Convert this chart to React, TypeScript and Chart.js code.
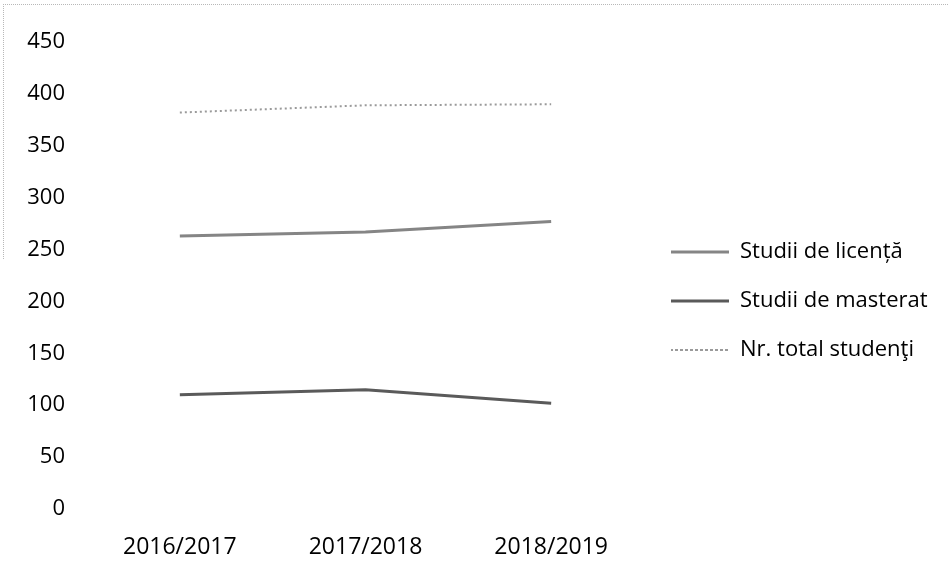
import React, { useEffect, useRef } from "react";
import { Chart, registerables } from "chart.js";

Chart.register(...registerables);

const years = ["2016/2017", "2017/2018", "2018/2019"];
const seriesNames = ["Studii de licență", "Studii de masterat", "Nr. total studenţi"];
const licenta = [263, 267, 277];
const masterat = [110, 115, 102];
const total = [382, 389, 390];
const yMin = 0;
const yMax = 450;
const yStep = 50;

export default function App() {
  const ref = useRef<HTMLCanvasElement | null>(null);

  useEffect(() => {
    if (!ref.current) return;
    const legendWidth = {
      id: "legendWidth",
      beforeLayout(chart: any) {
        const lg = chart.legend;
        if (lg && !lg._patchedFit) {
          const orig = lg.fit.bind(lg);
          lg.fit = () => {
            orig();
            lg.width = 307;
          };
          lg._patchedFit = true;
        }
      },
    };
    const tickFont = { family: "'Open Sans', sans-serif", size: 22 };
    const chart = new Chart(ref.current, {
      type: "line",
      data: {
        labels: years,
        datasets: [
          {
            label: seriesNames[0],
            data: licenta,
            borderColor: "#858585",
            backgroundColor: "#858585",
            borderWidth: 3,
            pointRadius: 0,
            tension: 0,
          },
          {
            label: seriesNames[1],
            data: masterat,
            borderColor: "#5a5a5a",
            backgroundColor: "#5a5a5a",
            borderWidth: 3,
            pointRadius: 0,
            tension: 0,
          },
          {
            label: seriesNames[2],
            data: total,
            borderColor: "#9a9a9a",
            backgroundColor: "#9a9a9a",
            borderWidth: 2,
            borderDash: [2, 3],
            pointRadius: 0,
            tension: 0,
          },
        ],
      },
      options: {
        animation: false,
        responsive: false,
        events: [],
        layout: { padding: { top: 42, bottom: 5, left: 0, right: 0 } },
        plugins: {
          legend: {
            position: "right",
            labels: {
              boxWidth: 58,
              boxHeight: 0,
              padding: 27,
              color: "#000",
              font: { family: "'Open Sans', sans-serif", size: 22 },
            },
          },
          tooltip: { enabled: false },
        },
        scales: {
          x: {
            offset: true,
            grid: { display: false, drawTicks: false },
            border: { display: false },
            ticks: { padding: 25, color: "#000", font: { family: "'Open Sans', sans-serif", size: 23 }, maxRotation: 0 },
            afterFit: (s: any) => {
              s.height = 51;
            },
          },
          y: {
            min: yMin,
            max: yMax,
            grid: { display: false, drawTicks: false },
            border: { display: false },
            ticks: { stepSize: yStep, padding: 22, color: "#000", font: tickFont },
            afterFit: (s: any) => {
              s.width = 87;
            },
          },
        },
      },
      plugins: [legendWidth],
    } as any);
    return () => chart.destroy();
  }, []);

  return (
    <div style={{ position: "fixed", left: 0, top: 0, width: 951, height: 565, background: "#fff" }}>
      <div style={{ position: "absolute", left: 3, top: 4, width: 945, height: 0, borderTop: "1px dotted #b8b8b8" }} />
      <div style={{ position: "absolute", left: 3, top: 4, width: 0, height: 255, borderLeft: "1px dotted #b8b8b8" }} />
      <canvas ref={ref} width={951} height={565} style={{ position: "absolute", left: 0, top: 0, width: 951, height: 565 }} />
    </div>
  );
}
